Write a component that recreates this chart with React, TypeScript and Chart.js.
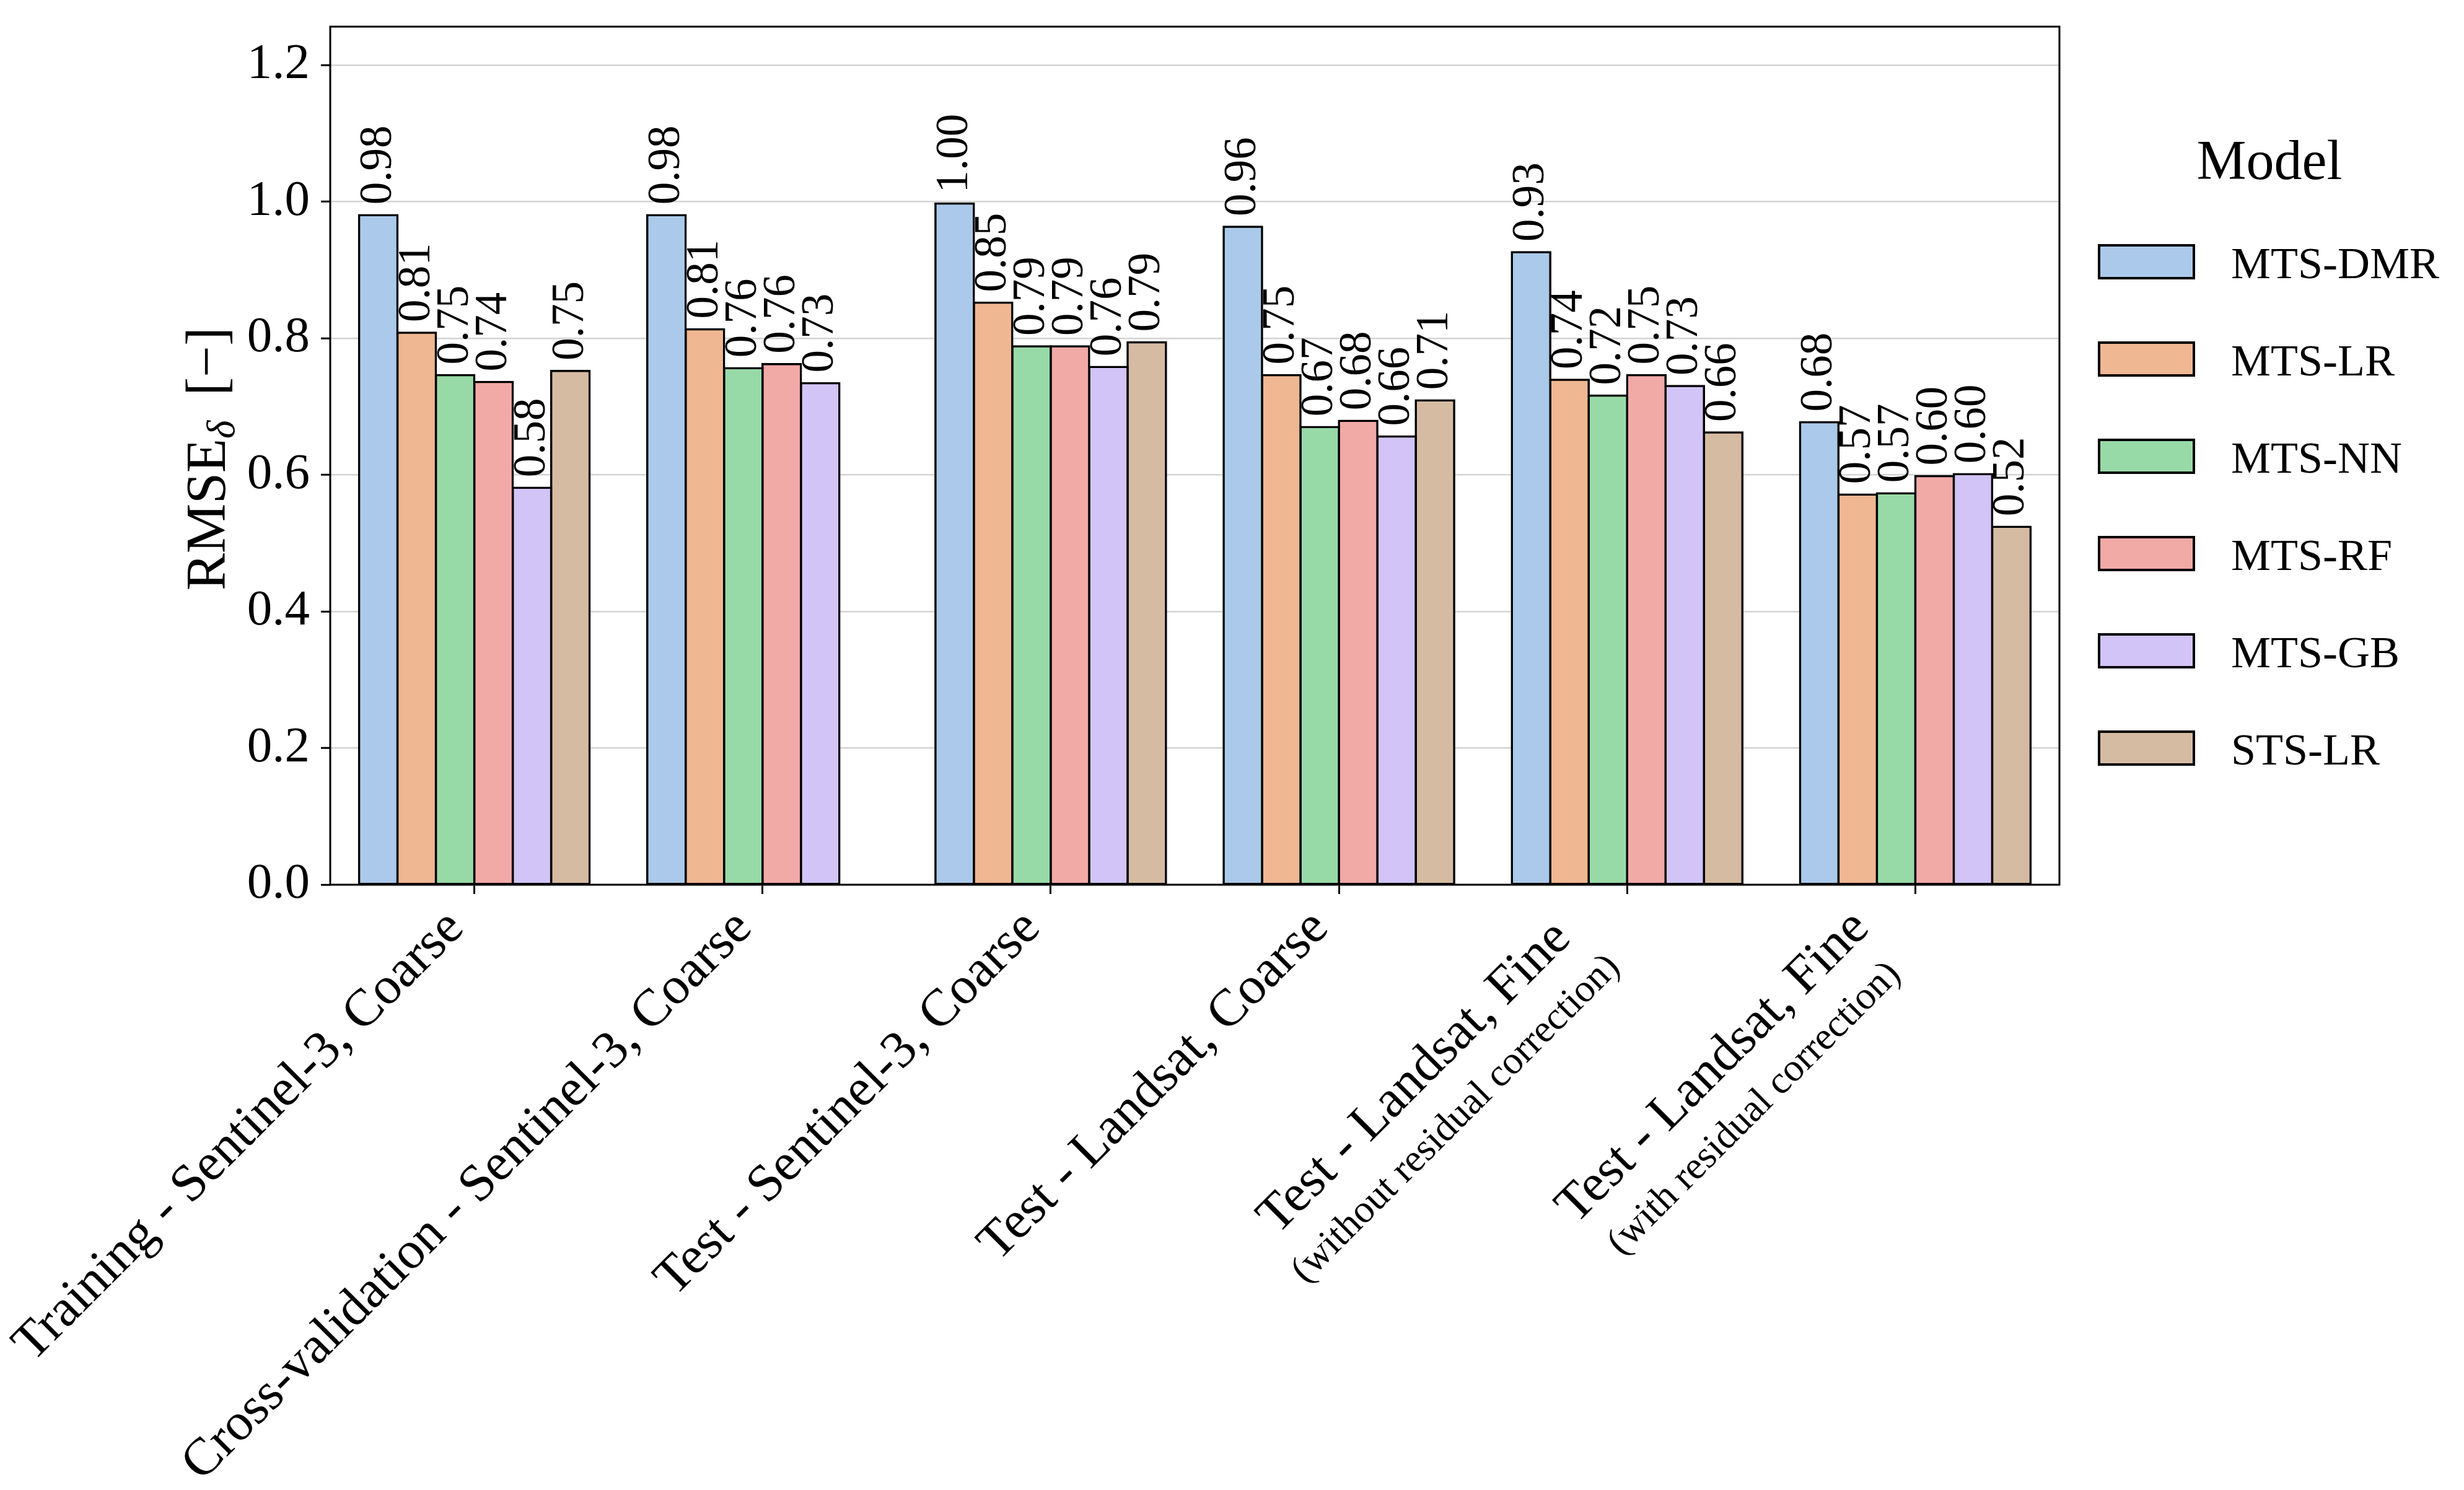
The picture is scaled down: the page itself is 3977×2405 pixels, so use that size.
import React, { useEffect, useRef } from "react";
import { Chart, registerables } from "chart.js";

Chart.register(...registerables);

const CANVAS_W = 3977;
const CANVAS_H = 2405;
const FONT = '"Liberation Serif", "Times New Roman", serif';

// ---- data ----
const categoryMain = [
  "Training - Sentinel-3, Coarse",
  "Cross-validation - Sentinel-3, Coarse",
  "Test - Sentinel-3, Coarse",
  "Test - Landsat, Coarse",
  "Test - Landsat, Fine",
  "Test - Landsat, Fine",
];
const categorySub = ["", "", "", "", "(without residual correction)", "(with residual correction)"];

const models = ["MTS-DMR", "MTS-LR", "MTS-NN", "MTS-RF", "MTS-GB", "STS-LR"];
const modelColors = ["#abc9ea", "#efb792", "#98daa7", "#f2aaa7", "#d3c4f7", "#d6bba3"];

const mtsDmr = [0.98, 0.98, 0.997, 0.963, 0.926, 0.677];
const mtsLr = [0.808, 0.813, 0.852, 0.746, 0.739, 0.571];
const mtsNn = [0.746, 0.756, 0.788, 0.67, 0.716, 0.573];
const mtsRf = [0.736, 0.762, 0.788, 0.679, 0.746, 0.598];
const mtsGb = [0.581, 0.734, 0.758, 0.656, 0.73, 0.601];
const stsLr: (number | null)[] = [0.752, null, 0.794, 0.709, 0.662, 0.524];
const seriesValues = [mtsDmr, mtsLr, mtsNn, mtsRf, mtsGb, stsLr];

const yMin = 0;
const yMax = 1.256;
const yStep = 0.2;

const yTitleMain = "RMSE";
const yTitleSub = "δ";
const yTitleUnit = "[−]";
const legendTitle = "Model";

export default function App() {
  const canvasRef = useRef<HTMLCanvasElement | null>(null);

  useEffect(() => {
    document.body.style.margin = "0";
    const canvas = canvasRef.current;
    if (!canvas) return;

    const overlay = {
      id: "overlay",
      beforeDatasetsDraw(chart: any) {
        const ctx = chart.ctx;
        ctx.save();
        ctx.fillStyle = "#000";
        ctx.font = `73px ${FONT}`;
        ctx.textAlign = "left";
        ctx.textBaseline = "alphabetic";
        chart.data.datasets.forEach((ds: any, di: number) => {
          const meta = chart.getDatasetMeta(di);
          meta.data.forEach((bar: any, i: number) => {
            const v = ds.data[i];
            if (v === null || v === undefined) return;
            const p = bar.getProps(["x", "y"], true);
            ctx.save();
            ctx.translate(p.x + 20, p.y - 17);
            ctx.rotate(-Math.PI / 2);
            ctx.fillText(v.toFixed(2), 0, 0);
            ctx.restore();
          });
        });
        ctx.restore();
      },
      afterDatasetsDraw(chart: any) {
        const ctx = chart.ctx;
        const a = chart.chartArea;
        ctx.save();
        ctx.strokeStyle = "#000";
        ctx.lineWidth = 3;
        ctx.strokeRect(a.left, a.top, a.right - a.left, a.bottom - a.top);
        ctx.restore();
      },
      afterDraw(chart: any) {
        const ctx = chart.ctx;
        const a = chart.chartArea;
        const xs = chart.scales.x;
        const c = Math.SQRT1_2;

        // x tick labels (rotated 45°, right/top aligned as a block)
        ctx.save();
        ctx.fillStyle = "#000";
        categoryMain.forEach((main, i) => {
          const tickX = xs.getPixelForTick(i);
          const lines: { t: string; f: number }[] = [{ t: main, f: 85 }];
          if (categorySub[i]) lines.push({ t: categorySub[i], f: 63 });
          let W = 0;
          lines.forEach((l) => {
            ctx.font = `${l.f}px ${FONT}`;
            W = Math.max(W, ctx.measureText(l.t).width);
          });
          const a1 = 0.75 * 85;
          const baselines = [a1, a1 + 88];
          const last = lines[lines.length - 1];
          const Hb = baselines[lines.length - 1] + 0.3 * last.f;
          const minY = a.bottom + 28;
          const ox = tickX + 4 - c * (W + Hb);
          const oy = minY + c * W;
          ctx.save();
          ctx.translate(ox, oy);
          ctx.rotate(-Math.PI / 4);
          ctx.textAlign = "center";
          ctx.textBaseline = "alphabetic";
          lines.forEach((l, li) => {
            ctx.font = `${l.f}px ${FONT}`;
            ctx.fillText(l.t, W / 2, baselines[li]);
          });
          ctx.restore();
        });
        ctx.restore();

        // y axis title with subscript
        ctx.save();
        ctx.fillStyle = "#000";
        const cy = (a.top + a.bottom) / 2 + 5;
        ctx.translate(363, cy);
        ctx.rotate(-Math.PI / 2);
        ctx.textBaseline = "alphabetic";
        ctx.textAlign = "left";
        const fMain = `90px ${FONT}`;
        const fSub = `italic 63px ${FONT}`;
        ctx.font = fMain;
        const w1 = ctx.measureText(yTitleMain).width;
        const w3 = ctx.measureText(yTitleUnit).width;
        ctx.font = fSub;
        const w2 = ctx.measureText(yTitleSub).width;
        const gap = 40;
        const total = w1 + w2 + gap + w3;
        let x0 = -total / 2;
        ctx.font = fMain;
        ctx.fillText(yTitleMain, x0, 0);
        x0 += w1;
        ctx.font = fSub;
        ctx.fillText(yTitleSub, x0, 15);
        x0 += w2 + gap;
        ctx.font = fMain;
        ctx.fillText(yTitleUnit, x0, 0);
        ctx.restore();

        // legend
        ctx.save();
        const lx = a.right + 64;
        const boxW = 153;
        const boxH = 53;
        const textX = lx + 213;
        const firstTop = a.top + 353;
        const step = 157;
        ctx.fillStyle = "#000";
        ctx.font = `90px ${FONT}`;
        ctx.textAlign = "center";
        ctx.textBaseline = "alphabetic";
        ctx.fillText(legendTitle, lx + 275, a.top + 246);
        chart.data.datasets.forEach((ds: any, di: number) => {
          const top = firstTop + di * step;
          ctx.fillStyle = ds.backgroundColor;
          ctx.fillRect(lx, top, boxW, boxH);
          ctx.strokeStyle = "#000";
          ctx.lineWidth = 4;
          ctx.strokeRect(lx, top, boxW, boxH);
          ctx.fillStyle = "#000";
          ctx.font = `72px ${FONT}`;
          ctx.textAlign = "left";
          ctx.fillText(ds.label, textX, top + boxH);
        });
        ctx.restore();
      },
    };

    const zeroPad = (s: any) => {
      s.paddingTop = 0;
      s.paddingBottom = 0;
      s.paddingLeft = 0;
      s.paddingRight = 0;
    };

    const chart = new Chart(canvas, {
      type: "bar",
      data: {
        labels: categoryMain.map((m, i) => (categorySub[i] ? `${m} ${categorySub[i]}` : m)),
        datasets: models.map((m, i) => ({
          label: m,
          data: seriesValues[i],
          backgroundColor: modelColors[i],
          borderColor: "#000",
          borderWidth: 3.5,
          borderSkipped: false,
          inflateAmount: 1.75,
          categoryPercentage: 0.8,
          barPercentage: 1.0,
        })),
      },
      options: {
        responsive: false,
        maintainAspectRatio: false,
        animation: false,
        devicePixelRatio: 1,
        layout: { padding: { left: 0, top: 43, right: CANVAS_W - 3324, bottom: 0 } },
        plugins: {
          legend: { display: false },
          tooltip: { enabled: false },
          title: { display: false },
        },
        scales: {
          x: {
            type: "category",
            offset: true,
            border: { display: false },
            grid: {
              display: true,
              drawOnChartArea: false,
              drawTicks: true,
              tickLength: 15,
              tickColor: "#000",
              tickWidth: 3,
              offset: false,
              color: "#000",
            },
            ticks: { display: false },
            afterFit: (s: any) => {
              s.height = CANVAS_H - 1428;
              zeroPad(s);
            },
          },
          y: {
            type: "linear",
            min: yMin,
            max: yMax,
            border: { display: false },
            grid: {
              color: "#d4d4d4",
              lineWidth: 2.5,
              drawTicks: true,
              tickLength: 15,
              tickColor: "#000",
              tickWidth: 3,
            },
            ticks: {
              stepSize: yStep,
              includeBounds: false,
              padding: 18,
              color: "#000",
              font: { family: FONT, size: 81 },
              callback: (v: any) => Number(v).toFixed(1),
            },
            afterFit: (s: any) => {
              s.width = 533;
              zeroPad(s);
            },
          },
        },
      },
      plugins: [overlay],
    } as any);

    return () => {
      chart.destroy();
    };
  }, []);

  return (
    <div style={{ width: CANVAS_W, height: CANVAS_H, background: "#fff" }}>
      <canvas
        ref={canvasRef}
        width={CANVAS_W}
        height={CANVAS_H}
        style={{ display: "block", width: CANVAS_W, height: CANVAS_H }}
      />
    </div>
  );
}
